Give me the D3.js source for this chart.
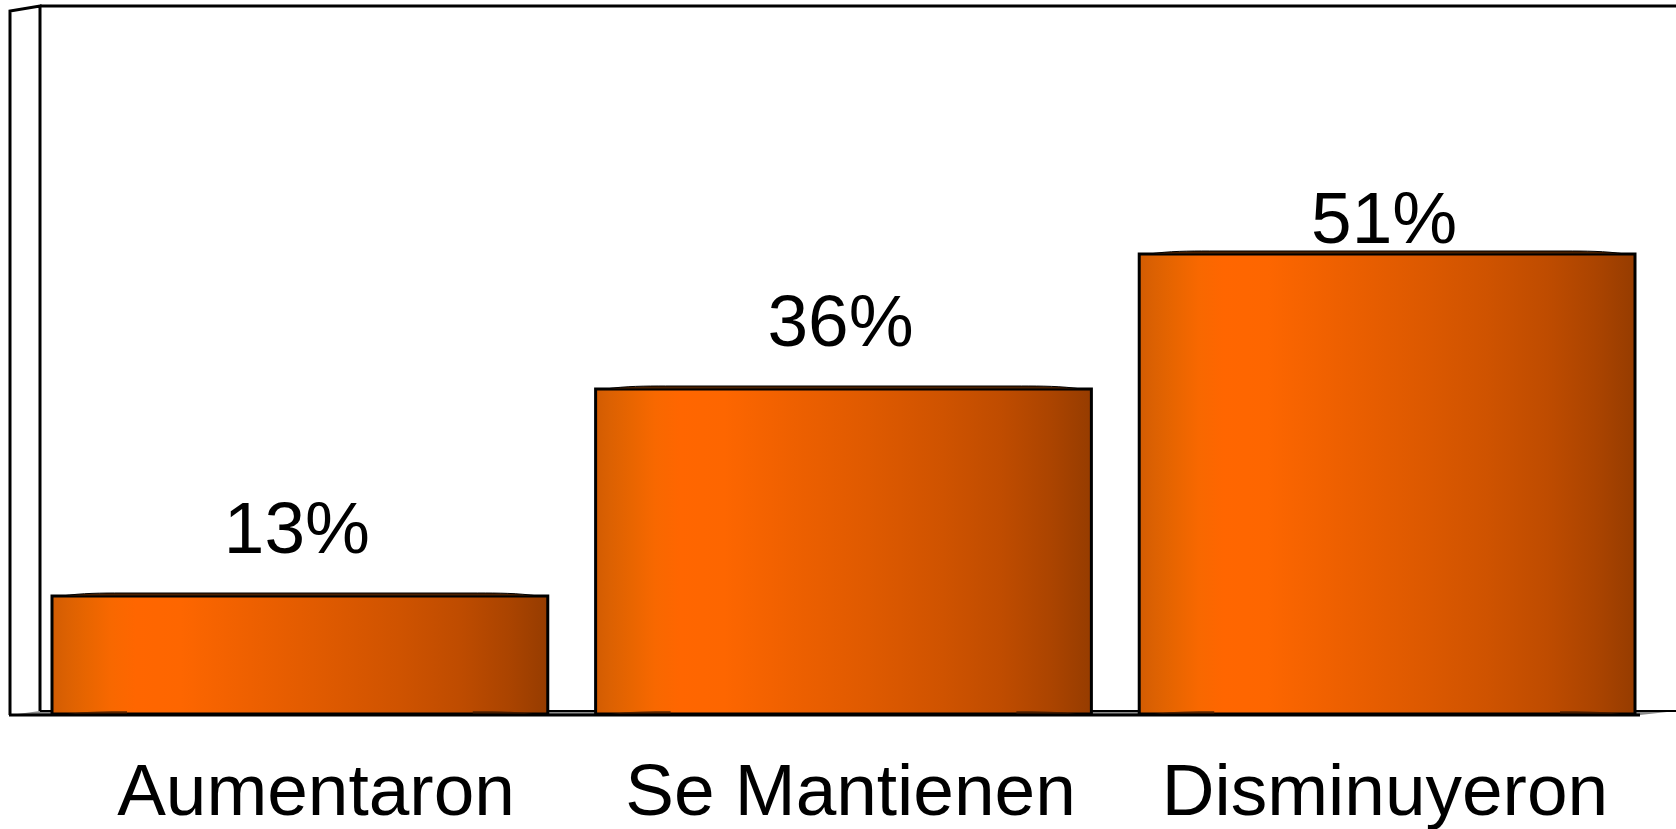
<!DOCTYPE html>
<html>
<head>
<meta charset="utf-8">
<script src="https://cdn.jsdelivr.net/npm/d3@7"></script>
<style>
  html, body { margin: 0; padding: 0; background: #ffffff; }
  svg { display: block; }
  text { font-family: "Liberation Sans", Arial, sans-serif; fill: #000; }
</style>
</head>
<body>
<svg id="chart" width="1676" height="829"></svg>
<script>
// ---- data ----
const categories = ["Aumentaron", "Se Mantienen", "Disminuyeron"];
const values = [13, 36, 51];
const valueLabels = ["13%", "36%", "51%"];

// ---- layout ----
const W = 1676, H = 829;
const floorY = 713;
const wallTop = 6;
const svg = d3.select("#chart");

const x = d3.scaleBand().domain(categories).range([52, 1635]).paddingInner(0.088).paddingOuter(0);
const y = d3.scaleLinear().domain([0, 80]).range([floorY, floorY - 80 * 9.0]);
const xLabel = d3.scalePoint().domain(categories).range([316, 1385]);

// gradient
const defs = svg.append("defs");
const grad = defs.append("linearGradient").attr("id", "barGrad")
  .attr("x1", "0%").attr("x2", "100%").attr("y1", "0%").attr("y2", "0%");
[[0, "#d25c02"], [0.03, "#dc6102"], [0.07, "#e86500"], [0.12, "#f86800"], [0.17, "#ff6600"],
 [0.26, "#fd6600"], [0.4, "#ee6000"], [0.55, "#df5a00"], [0.7, "#cf5300"], [0.82, "#bf4c00"],
 [0.92, "#ab4400"], [1, "#963c00"]].forEach(s => grad.append("stop").attr("offset", s[0]).attr("stop-color", s[1]));

// walls
const g = svg.append("g");
// side wall (left)
g.append("path")
  .attr("d", `M10,${floorY + 2} L10,11 L40,${wallTop} L40,${floorY - 2}`)
  .attr("fill", "none").attr("stroke", "#000").attr("stroke-width", 3);
// back wall top
g.append("line").attr("x1", 40).attr("x2", W).attr("y1", wallTop).attr("y2", wallTop)
  .attr("stroke", "#000").attr("stroke-width", 3);

// floor
g.append("path")
  .attr("d", `M10,${floorY + 2} L40,${floorY - 2} L${W},${floorY - 2} L1640,${floorY + 2} Z`)
  .attr("fill", "#8a8a8a").attr("stroke", "none");
g.append("line").attr("x1", 40).attr("x2", W).attr("y1", floorY - 2).attr("y2", floorY - 2)
  .attr("stroke", "#000").attr("stroke-width", 2);
g.append("line").attr("x1", 9).attr("x2", 1640).attr("y1", floorY + 2).attr("y2", floorY + 2)
  .attr("stroke", "#000").attr("stroke-width", 3);

// bars
const data = categories.map((c, i) => ({ c, v: values[i], label: valueLabels[i] }));
const maxV = d3.max(values);
const bars = g.selectAll("g.bar").data(data).join("g").attr("class", "bar");

bars.append("rect")
  .attr("x", d => x(d.c)).attr("y", d => y(d.v))
  .attr("width", x.bandwidth()).attr("height", d => floorY + 1 - y(d.v))
  .attr("fill", "url(#barGrad)")
  .attr("stroke", "#000").attr("stroke-width", 3);

// thin 3D top sliver
bars.append("path")
  .attr("d", d => {
    const x0 = x(d.c), x1 = x0 + x.bandwidth(), t = y(d.v);
    return `M${x0 + 10},${t} C${x0 + 30},${t - 3} ${x0 + 50},${t - 3} ${x0 + 70},${t - 3} L${x1 - 70},${t - 3} C${x1 - 50},${t - 3} ${x1 - 30},${t - 3} ${x1 - 10},${t} Z`;
  })
  .attr("fill", "#4a2000").attr("stroke", "#000").attr("stroke-width", 1);

// bottom dark wedges
bars.append("path")
  .attr("d", d => {
    const x0 = x(d.c), x1 = x0 + x.bandwidth(), b = floorY + 1;
    return `M${x0 + 15},${b} C${x0 + 35},${b - 3} ${x0 + 55},${b - 3} ${x0 + 75},${b - 3} L${x0 + 75},${b} Z M${x1 - 15},${b} C${x1 - 35},${b - 3} ${x1 - 55},${b - 3} ${x1 - 75},${b - 3} L${x1 - 75},${b} Z`;
  })
  .attr("fill", "#3a1800").attr("opacity", 0.6);

// value labels
bars.append("text")
  .attr("x", d => x(d.c) + x.bandwidth() / 2 - 3)
  .attr("y", d => y(d.v) - (d.v === maxV ? 11 : 43))
  .attr("text-anchor", "middle")
  .attr("font-size", 73)
  .text(d => d.label);

// category labels
g.selectAll("text.cat").data(categories).join("text").attr("class", "cat")
  .attr("x", d => xLabel(d)).attr("y", 815)
  .attr("text-anchor", "middle")
  .attr("font-size", 73)
  .text(d => d);
</script>
</body>
</html>
